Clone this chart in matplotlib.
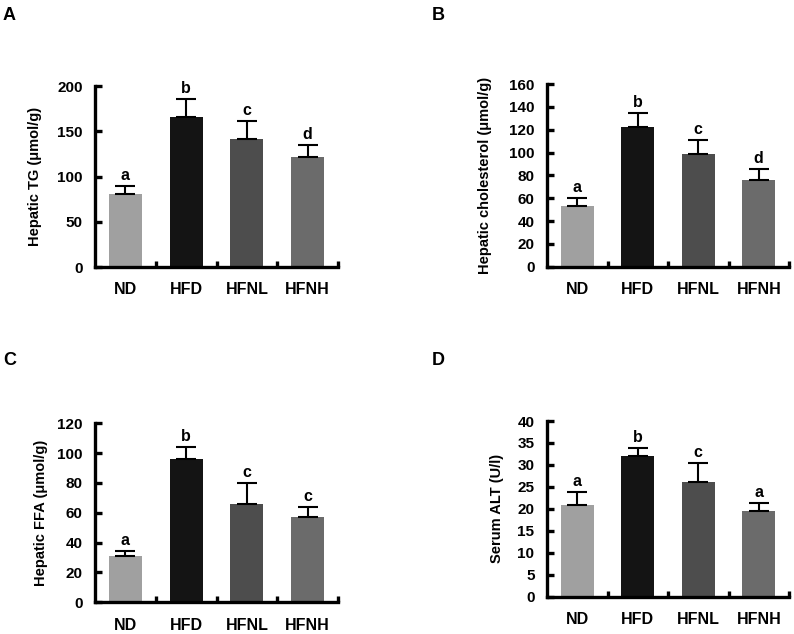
import matplotlib
matplotlib.use("Agg")
import matplotlib.pyplot as plt
import numpy as np

plt.rcParams['font.family'] = ['Liberation Sans', 'DejaVu Sans']
plt.rcParams['font.weight'] = 'bold'

groups = ["ND", "HFD", "HFNL", "HFNH"]
colors = ["#a0a0a0", "#141414", "#4d4d4d", "#6b6b6b"]

tg_mean = [81, 166, 141, 121]
tg_err = [8.5, 19.5, 20.5, 14]
tg_sig = ["a", "b", "c", "d"]

chol_mean = [53, 122, 99, 76]
chol_err = [7.5, 12.5, 12, 9.5]
chol_sig = ["a", "b", "c", "d"]

ffa_mean = [31, 96, 66, 57.5]
ffa_err = [3.6, 8, 14, 6.3]
ffa_sig = ["a", "b", "c", "c"]

alt_mean = [20.8, 32.0, 26.0, 19.6]
alt_err = [3.1, 1.9, 4.4, 1.8]
alt_sig = ["a", "b", "c", "a"]

panels = [
    dict(letter="A", mean=tg_mean, err=tg_err, sig=tg_sig, ylabel="Hepatic TG (μmol/g)",
         ymax=200, step=50, rect=[95/794, 1-267/634, 243/794, 181/634], lab=-0.22, lx=3/794, ly=1-20/634),
    dict(letter="B", mean=chol_mean, err=chol_err, sig=chol_sig, ylabel="Hepatic cholesterol (μmol/g)",
         ymax=160, step=20, rect=[547/794, 1-266.7/634, 242/794, 182.7/634], lab=-0.226, lx=432/794, ly=1-20/634),
    dict(letter="C", mean=ffa_mean, err=ffa_err, sig=ffa_sig, ylabel="Hepatic FFA (μmol/g)",
         ymax=120, step=20, rect=[95/794, 1-602.3/634, 243/794, 179/634], lab=-0.195, lx=3/794, ly=1-365/634),
    dict(letter="D", mean=alt_mean, err=alt_err, sig=alt_sig, ylabel="Serum ALT (U/l)",
         ymax=40, step=5, rect=[547/794, 1-596.7/634, 242/794, 175.7/634], lab=-0.177, lx=432/794, ly=1-365/634),
]

fig = plt.figure(figsize=(7.94, 6.34), dpi=100)
for p in panels:
    ax = fig.add_axes(p["rect"])
    x = np.arange(len(groups))
    ax.bar(x, p["mean"], width=0.54, color=colors, zorder=2)
    ax.errorbar(x, p["mean"], yerr=[np.zeros(len(groups)), p["err"]], fmt="none",
                ecolor="black", elinewidth=1.5, capsize=7, capthick=1.5, zorder=3)
    for xi, m, e, s in zip(x, p["mean"], p["err"], p["sig"]):
        ax.annotate(s, (xi, m + e), xytext=(0, 2), textcoords="offset points",
                    ha="center", va="bottom", fontsize=11.5, fontweight="bold")
    ax.set_xlim(-0.5, 3.5)
    ax.set_ylim(0, p["ymax"])
    ax.set_yticks(np.arange(0, p["ymax"] + 0.1, p["step"]))
    ax.set_xticks(x)
    ax.set_xticklabels(groups, fontsize=11.5, fontweight="bold")
    ax.set_xticks(x + 0.5, minor=True)
    ax.tick_params(axis="x", which="major", length=0, pad=11)
    ax.tick_params(axis="x", which="minor", direction="in", length=4.5, width=2.4)
    ax.tick_params(axis="y", direction="in", length=5, width=2.4, labelsize=11, pad=9)
    for lbl in ax.get_yticklabels():
        lbl.set_fontweight("bold")
    for side in ["top", "right"]:
        ax.spines[side].set_visible(False)
    for side in ["left", "bottom"]:
        ax.spines[side].set_linewidth(2.4)
    ax.set_ylabel(p["ylabel"], fontsize=10.5, fontweight="bold")
    ax.yaxis.set_label_coords(p["lab"], 0.5)
    fig.text(p["lx"], p["ly"], p["letter"], fontsize=13, fontweight="bold", ha="left", va="baseline")

fig.savefig("out.png", dpi=100)
